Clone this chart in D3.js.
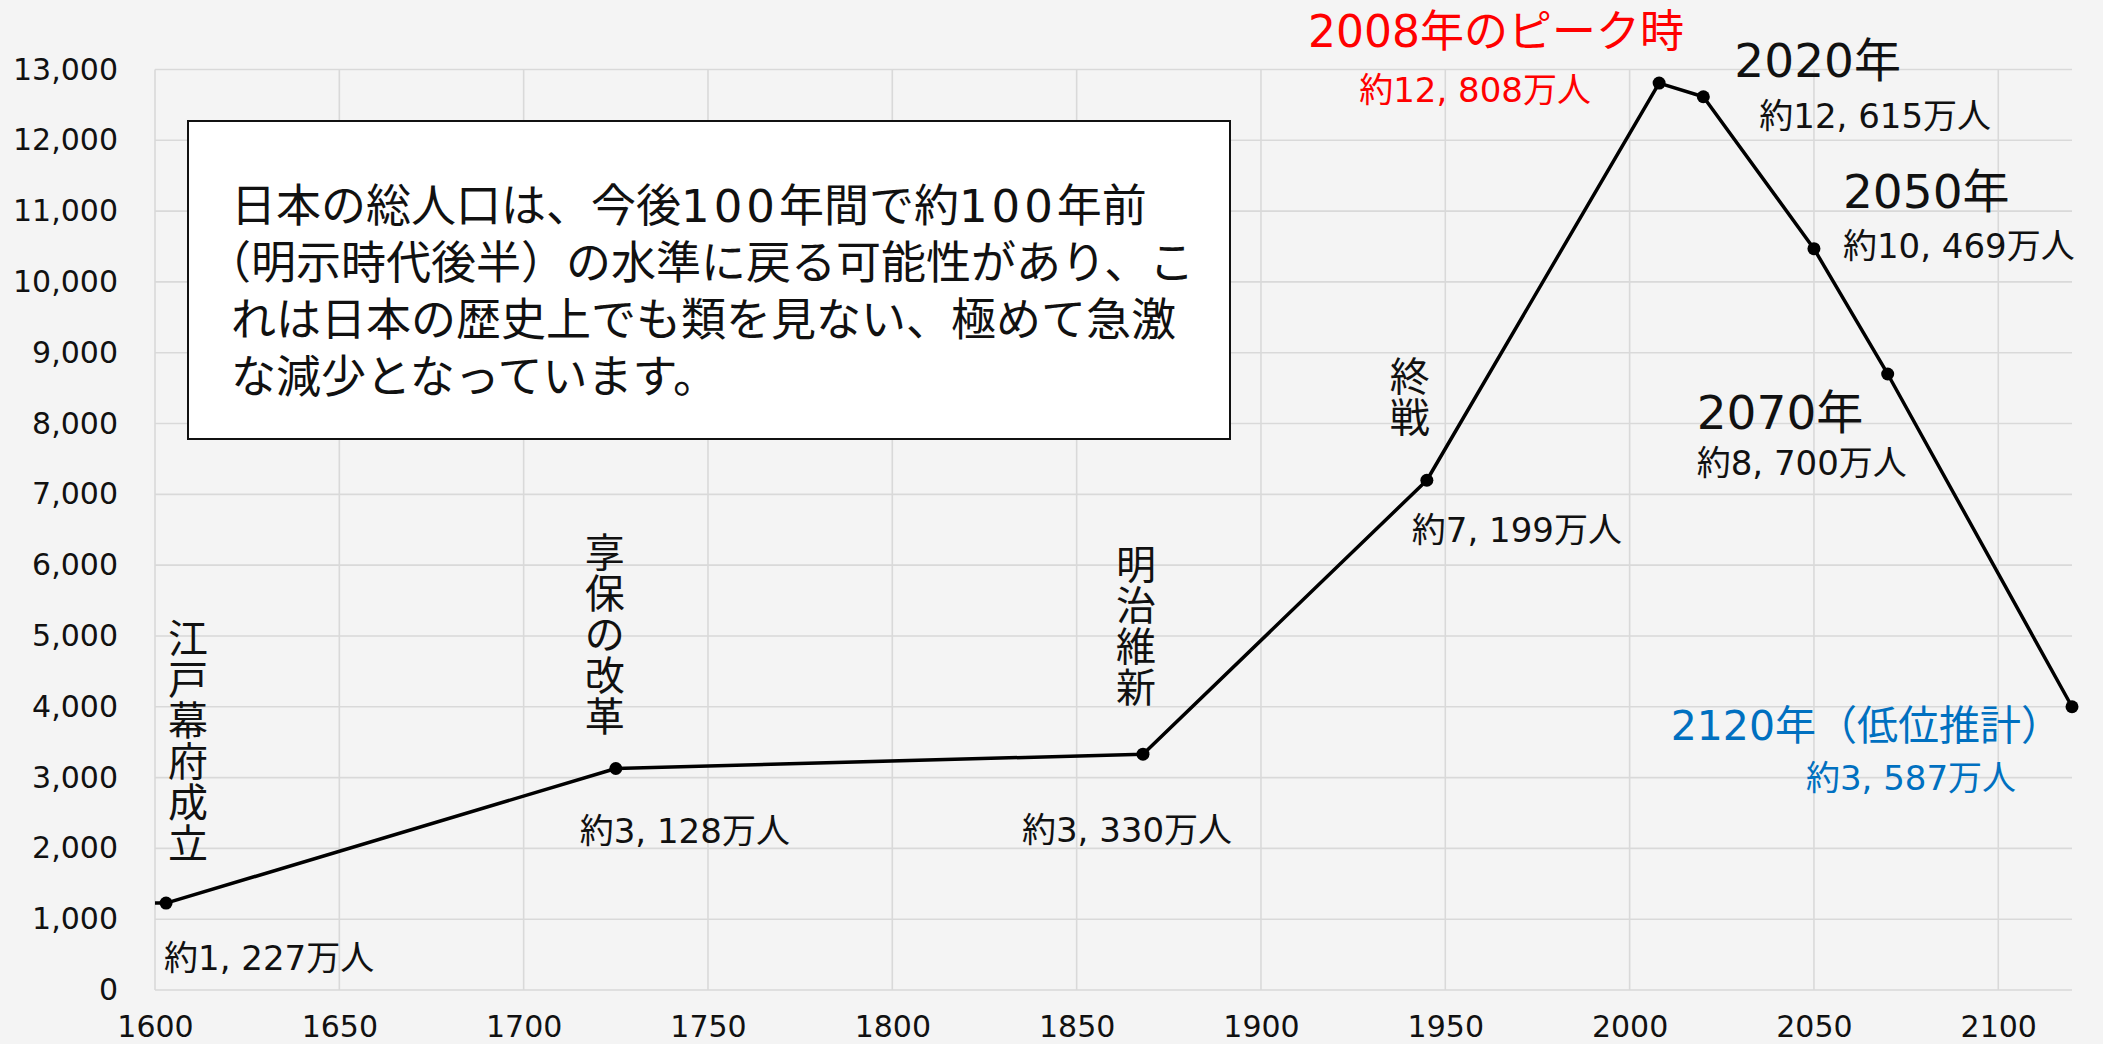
<!DOCTYPE html>
<html>
<head>
<meta charset="utf-8">
<script src="https://cdn.jsdelivr.net/npm/d3@7"></script>
<style>
  html, body { margin: 0; padding: 0; background: #f4f4f4; }
  svg { display: block; }
  text { font-family: "DejaVu Sans", "Noto Sans CJK JP", sans-serif; fill: #111; }
</style>
</head>
<body>
<svg id="chart" width="2103" height="1044"></svg>
<script>
// population of Japan (万人): plotted values and the values written in the labels
var years = [1600, 1603, 1725, 1868, 1945, 2008, 2020, 2050, 2070, 2120];
var population = [1227, 1227, 3128, 3330, 7199, 12808, 12615, 10469, 8700, 4000];
var labelValues = [null, 1227, 3128, 3330, 7199, 12808, 12615, 10469, 8700, 3587];

var xTicks = [1600, 1650, 1700, 1750, 1800, 1850, 1900, 1950, 2000, 2050, 2100];
var yTicks = [0, 1000, 2000, 3000, 4000, 5000, 6000, 7000, 8000, 9000, 10000, 11000, 12000, 13000];

var eventYears = [1603, 1725, 1868, 1945];
var eventNames = ["江戸幕府成立", "享保の改革", "明治維新", "終戦"];

var milestoneYears = [2008, 2020, 2050, 2070, 2120];
var milestoneTitles = ["2008年のピーク時", "2020年", "2050年", "2070年", "2120年（低位推計）"];

var noteLines = [
  "日本の総人口は、今後100年間で約100年前",
  "（明示時代後半）の水準に戻る可能性があり、こ",
  "れは日本の歴史上でも類を見ない、極めて急激",
  "な減少となっています。"
];

// layout (pixel offsets from each point)
var valueLayout = {
  1603: ["start", -2, 67], 1725: ["middle", 69, 74], 1868: ["middle", -16, 88],
  1945: ["start", -15, 62], 2008: ["middle", -184, 19], 2020: ["start", 56, 31],
  2050: ["start", 29, 9], 2070: ["start", -191, 101], 2120: ["middle", -161, 83]
};
var titleLayout = {
  2008: ["middle", -163, -36, 44], 2020: ["start", 31, -20, 47], 2050: ["start", 29, -41, 47],
  2070: ["start", -191, 55, 47], 2120: ["end", -10, 33, 41]
};
var eventLayout = { 1603: [22, -250], 1725: [-11, -202], 1868: [-7, -175], 1945: [-17, -89] };
var colorOf = { 2008: "#ff0000", 2120: "#0070c0" };

var svg = d3.select("#chart");
var plotLeft = 155, plotRight = 2072, plotTop = 69.5, plotBottom = 990;

var x = d3.scaleLinear().domain([1600, 2120]).range([plotLeft, plotRight]);
var y = d3.scaleLinear().domain([0, 13000]).range([plotBottom, plotTop]);

// grid
svg.append("g").selectAll("line").data(yTicks).enter().append("line")
  .attr("x1", plotLeft).attr("x2", plotRight)
  .attr("y1", function (d) { return y(d); }).attr("y2", function (d) { return y(d); })
  .attr("stroke", "#d9d9d9").attr("stroke-width", 1.6);
svg.append("g").selectAll("line").data(xTicks).enter().append("line")
  .attr("x1", function (d) { return x(d); }).attr("x2", function (d) { return x(d); })
  .attr("y1", plotTop).attr("y2", plotBottom)
  .attr("stroke", "#d9d9d9").attr("stroke-width", 1.6);

// axes
var yAxis = svg.append("g").attr("transform", "translate(" + plotLeft + ",0)")
  .call(d3.axisLeft(y).tickValues(yTicks).tickFormat(d3.format(",")).tickSize(0).tickPadding(37));
var xAxis = svg.append("g").attr("transform", "translate(0," + plotBottom + ")")
  .call(d3.axisBottom(x).tickValues(xTicks).tickFormat(function (d) { return d; }).tickSize(0).tickPadding(26));
[yAxis, xAxis].forEach(function (a) {
  a.select(".domain").remove();
  a.selectAll("text").attr("font-size", 30).attr("fill", "#111")
    .attr("font-family", "\"DejaVu Sans\", \"Noto Sans CJK JP\", sans-serif");
});

// note box
svg.append("rect").attr("x", 188).attr("y", 121).attr("width", 1042).attr("height", 318)
  .attr("fill", "#fff").attr("stroke", "#111").attr("stroke-width", 2);
var note = svg.append("g");
noteLines.forEach(function (line, i) {
  var t = note.append("text")
    .attr("x", i === 1 ? 206 : 231).attr("y", 222 + i * 57)
    .attr("font-size", 45);
  // digits a little wider, as in the original
  line.split(/(\d+)/).forEach(function (part) {
    if (!part) return;
    var s = t.append("tspan").text(part);
    if (/^\d+$/.test(part)) s.attr("letter-spacing", 4);
  });
});

// line + markers
var pts = years.map(function (d, i) { return [d, population[i], labelValues[i]]; });
svg.append("path").datum(pts)
  .attr("d", d3.line().x(function (d) { return x(d[0]); }).y(function (d) { return y(d[1]); }))
  .attr("fill", "none").attr("stroke", "#000").attr("stroke-width", 3.5)
  .attr("stroke-linejoin", "round");
svg.append("g").selectAll("circle").data(pts.slice(1)).enter().append("circle")
  .attr("cx", function (d) { return x(d[0]); }).attr("cy", function (d) { return y(d[1]); })
  .attr("r", 6.5).attr("fill", "#000");

// value labels
var fmt = d3.format(",");
pts.slice(1).forEach(function (d) {
  var l = valueLayout[d[0]];
  svg.append("text")
    .attr("x", x(d[0]) + l[1]).attr("y", y(d[1]) + l[2])
    .attr("text-anchor", l[0]).attr("font-size", 34)
    .style("fill", colorOf[d[0]] || "#111")
    .text("約" + fmt(d[2]).replace(",", ", ") + "万人");
});

// milestone titles
milestoneYears.forEach(function (yr, i) {
  var l = titleLayout[yr];
  var v = population[years.indexOf(yr)];
  svg.append("text")
    .attr("x", x(yr) + l[1]).attr("y", y(v) + l[2])
    .attr("text-anchor", l[0]).attr("font-size", l[3])
    .style("fill", colorOf[yr] || "#111")
    .text(milestoneTitles[i]);
});

// vertical event labels
eventYears.forEach(function (yr, i) {
  var l = eventLayout[yr];
  var v = population[years.indexOf(yr)];
  var g = svg.append("g");
  eventNames[i].split("").forEach(function (ch, j) {
    g.append("text")
      .attr("x", x(yr) + l[0]).attr("y", y(v) + l[1] + j * 41)
      .attr("text-anchor", "middle").attr("font-size", 40)
      .text(ch);
  });
});
</script>
</body>
</html>
